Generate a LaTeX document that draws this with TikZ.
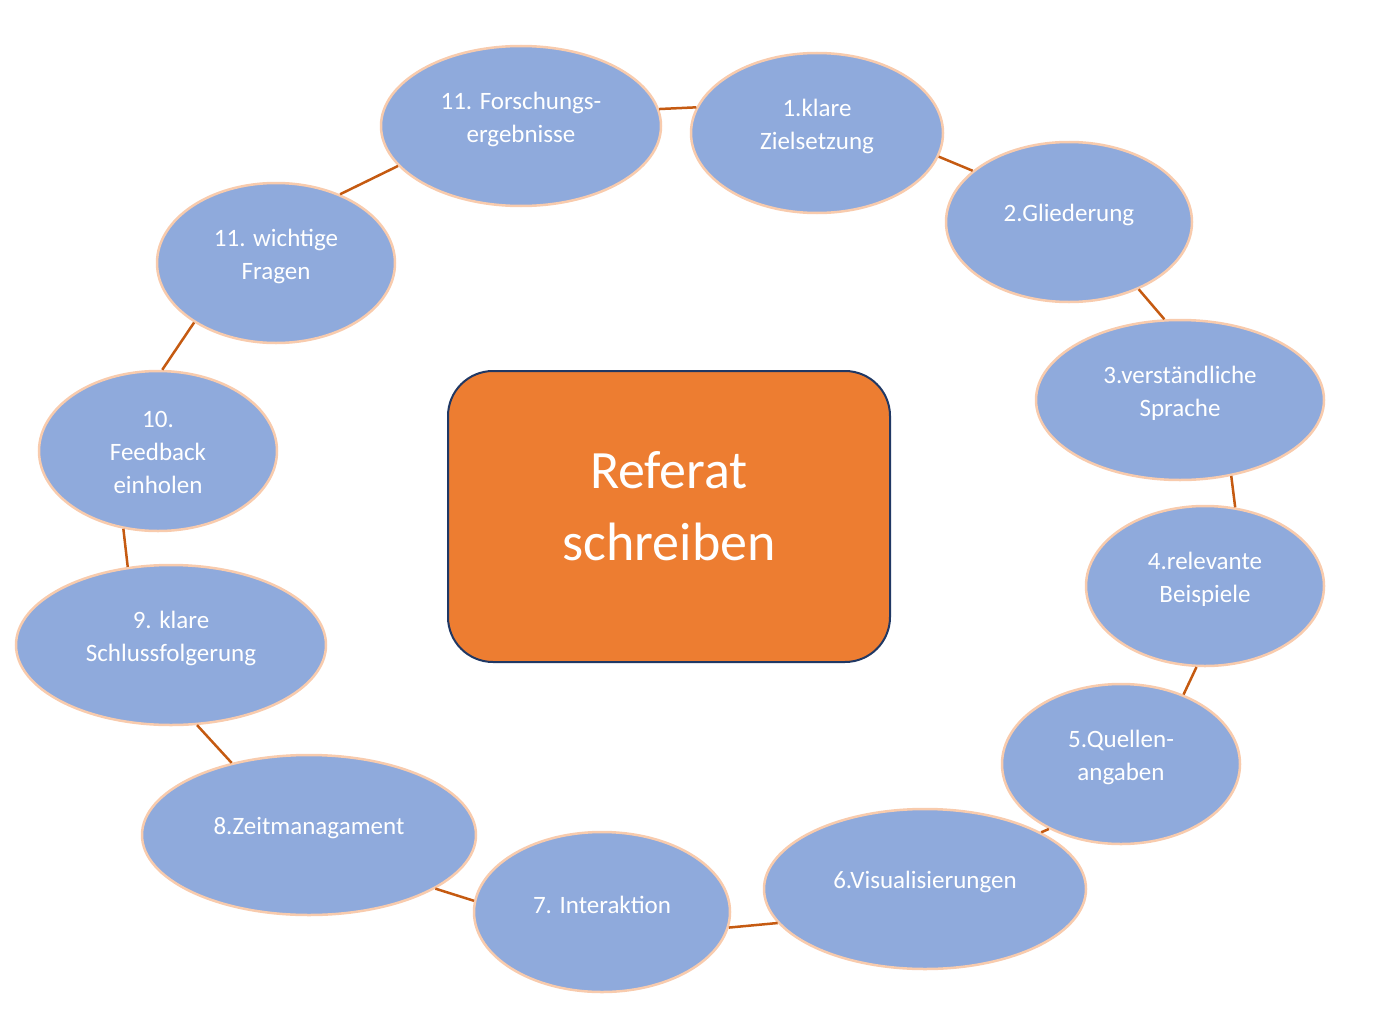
\documentclass[tikz,border=0pt]{standalone}
\usepackage{fontspec}
\setmainfont{Carlito}
\usetikzlibrary{shapes.geometric}
\definecolor{Bubble}{HTML}{8FAADC}
\definecolor{Peach}{HTML}{F8CBAD}
\definecolor{Rust}{HTML}{C55A11}
\definecolor{Hub}{HTML}{ED7D31}
\definecolor{Navy}{HTML}{203864}

\begin{document}
\begin{tikzpicture}[x=1pt,y=-1pt,
    bub/.style={ellipse,draw=Peach,line width=2.5pt,fill=Bubble,minimum height=160pt,inner sep=0pt},
    lbl/.style={text=white,font=\fontsize{25}{33}\selectfont,align=center},
    hubbox/.style={draw=Navy,line width=2pt,fill=Hub,rounded corners=45pt,
      minimum width=442pt,minimum height=291pt,inner sep=0pt},
    link/.style={Rust,line width=2.5pt}]
    \useasboundingbox (0,0) rectangle (1394,1022);
    % ring of topics
    \foreach \nm/\x/\y/\rx/\dy/\txt in {
        qF/521/126/140/7/{11. Forschungs-\\ergebnisse},
        q1/817/133/126/7/{1.klare\\Zielsetzung},
        q2/1069/222/123/7/{2.Gliederung},
        q3/1180/400/144/7/{3.verständliche\\Sprache},
        q4/1205/586/119/7/{4.relevante\\Beispiele},
        q5/1121/764/119/7/{5.Quellen-\\angaben},
        q6/925/889/161/7/{6.Visualisierungen},
        q7/602/912/128/7/{7. Interaktion},
        q8/309/835/167/7/{8.Zeitmanagament},
        q9/171/645/155/7/{9. klare\\Schlussfolgerung},
        q10/158/451/119/-1/{10.\\Feedback\\einholen},
        q11/276/263/119/7/{11. wichtige\\Fragen}}{
      \node[bub,minimum width=2*\rx] (\nm) at (\x,\y) {};
      \node[lbl] (\nm-t) at ([yshift=\dy pt]\nm) {\txt};
    }
    \foreach \u/\v in {qF.7/q1.168,q1.-11/q2.152,q2.-44/q3.101,q3.-56/q4.69,
        q4.-96/q5.48,q5.-138/q6.26,q6.193/q7.-7,q7.175/q8.-23,q8.137/q9.-72,
        q9.119/q10.-114,q10.87/q11.-144,q11.47/qF.198}\draw[link] (\u)--(\v);
    % centre
    \node[hubbox] (hub) at (669,516.5) {};
    \node[lbl,font=\fontsize{54}{72}\selectfont] (hub-t) at ([yshift=10pt]hub) {Referat\\schreiben};
  \end{tikzpicture}
\end{document}
